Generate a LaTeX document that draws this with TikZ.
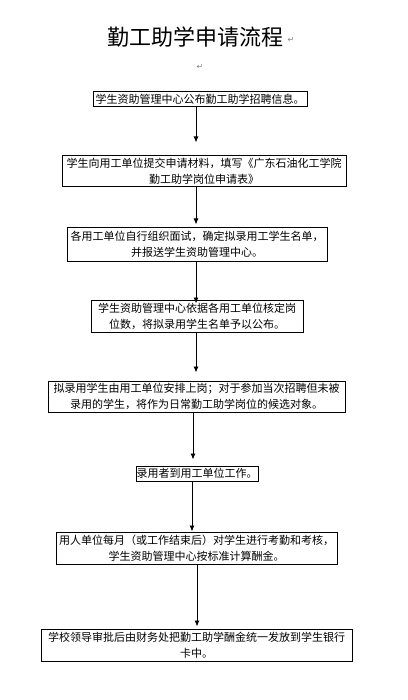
\documentclass[tikz,border=0pt]{standalone}
\usepackage{fontspec}
\setmainfont{Noto Sans CJK SC}
\newfontfamily\cjk{Noto Sans CJK SC}
\newfontfamily\symf{DejaVu Sans}
\usetikzlibrary{arrows.meta}
\begin{document}
\begin{tikzpicture}[x=1pt,y=-1pt,
  box/.style={draw=black,line width=1pt,inner sep=0pt,align=center,
    font=\cjk\fontsize{11}{16}\selectfont},
  arr/.style={draw=black,line width=0.9pt,-{Latex[length=6pt,width=5pt]}},
  pmark/.style={text=gray,font=\symf\fontsize{8}{8}\selectfont,inner sep=0pt}]
\useasboundingbox (0,0) rectangle (407,700);
\fill[white] (0,0) rectangle (407,700);
\node[font=\cjk\fontsize{22}{24}\selectfont,inner sep=0pt] (title) at (195.5,37) {勤工助学申请流程};
\node[pmark] (m1) at (291,40) {↵};
\node[pmark] (m2) at (200,67) {↵};
\node[box,minimum width=214pt,minimum height=15pt] (b1) at (200,99.5) {学生资助管理中心公布勤工助学招聘信息。};
\node[box,minimum width=284pt,minimum height=31pt] (b2) at (204,171.5) {学生向用工单位提交申请材料，填写《广东石油化工学院\\勤工助学岗位申请表》};
\node[box,minimum width=260pt,minimum height=33pt] (b3) at (197,244.5) {各用工单位自行组织面试，确定拟录用工学生名单，\\并报送学生资助管理中心。};
\node[box,minimum width=212pt,minimum height=32pt] (b4) at (197,316) {学生资助管理中心依据各用工单位核定岗\\位数，将拟录用学生名单予以公布。};
\node[box,minimum width=297pt,minimum height=31pt] (b5) at (196.5,396.5) {拟录用学生由用工单位安排上岗；对于参加当次招聘但未被\\录用的学生，将作为日常勤工助学岗位的候选对象。};
\node[box,minimum width=122pt,minimum height=15pt] (b6) at (197,473.5) {录用者到用工单位工作。};
\node[box,minimum width=281pt,minimum height=32pt] (b7) at (196.5,548) {用人单位每月（或工作结束后）对学生进行考勤和考核，\\学生资助管理中心按标准计算酬金。};
\node[box,minimum width=311pt,minimum height=32pt] (b8) at (196.5,645) {学校领导审批后由财务处把勤工助学酬金统一发放到学生银行\\卡中。};
\coordinate (xa) at (196,0);
\coordinate (xb) at (193,0);
\coordinate (xc) at (192,0);
\coordinate (xd) at (197,0);
\draw[arr,shorten >=13pt] (b1.south -| xa) -- (b2.north -| xa);
\draw[arr,shorten >=3pt] (b2.south -| xa) -- (b3.north -| xa);
\draw[arr,shorten >=-4pt] (b3.south -| xa) -- (b4.north -| xa);
\draw[arr,shorten >=8pt] (b4.south -| xa) -- (b5.north -| xa);
\draw[arr,shorten >=6pt] (b5.south -| xb) -- (b6.north -| xb);
\draw[arr] (b6.south -| xc) -- (b7.north -| xc);
\draw[arr,shorten >=2pt] (b7.south -| xd) -- (b8.north -| xd);
\end{tikzpicture}
\end{document}
